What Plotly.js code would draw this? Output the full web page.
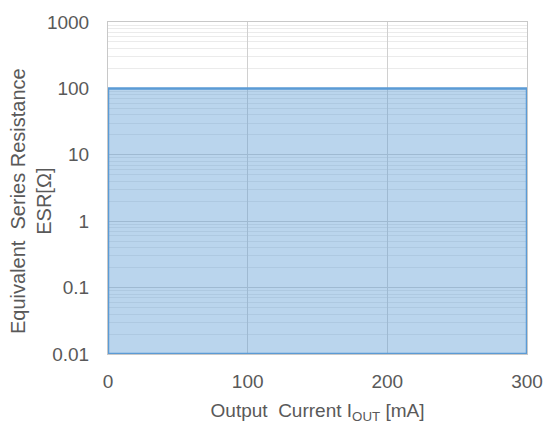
<!DOCTYPE html>
<html>
<head>
<meta charset="utf-8">
<script src="https://cdn.plot.ly/plotly-3.0.1.min.js"></script>
<style>html,body{margin:0;padding:0;background:#fff}#chart{width:548px;height:426px}</style>
</head>
<body>
<div id="chart"></div>
<script>
// Stable region boundary (output current vs ESR)
const regionCurrent = [0, 0, 300, 300, 0];
const regionESR = [0.01, 100, 100, 0.01, 0.01];
const yTickVals = [0.01, 0.1, 1, 10, 100, 1000];
const yTickText = ['0.01', '0.1', '1', '10', '100', '1000'];
const xTickVals = [0, 100, 200, 300];
const yTitle = 'Equivalent  Series Resistance<br>ESR[Ω]';
const xTitle = 'Output  Current I<sub>OUT</sub> [mA]';

const trace = {
  x: regionCurrent,
  y: regionESR,
  type: 'scatter',
  mode: 'lines',
  fill: 'toself',
  fillcolor: 'rgba(91,155,213,0.42)',
  line: {color: '#5b9bd5', width: 2.5},
  hoverinfo: 'skip',
  showlegend: false
};

const layout = {
  width: 548, height: 426,
  margin: {l: 108, r: 21, t: 22, b: 72},
  paper_bgcolor: '#ffffff',
  plot_bgcolor: '#ffffff',
  font: {family: 'Liberation Sans, Arial, sans-serif', size: 19, color: '#595959'},
  xaxis: {
    range: [0, 300],
    tickvals: xTickVals,
    ticks: '',
    ticklabelstandoff: 10,
    showgrid: true,
    gridcolor: '#d0d0d0',
    gridwidth: 1,
    zeroline: false,
    showline: true,
    linecolor: '#c8c8c8',
    mirror: true,
    tickfont: {size: 19, color: '#595959'},
    title: {text: xTitle, font: {size: 19, color: '#595959'}, standoff: 12}
  },
  yaxis: {
    type: 'log',
    range: [-2, 3],
    tickvals: yTickVals,
    ticktext: yTickText,
    ticks: '',
    ticklabelstandoff: 14,
    showgrid: true,
    gridcolor: '#d0d0d0',
    gridwidth: 1,
    zeroline: false,
    showline: true,
    linecolor: '#c8c8c8',
    mirror: true,
    tickfont: {size: 19, color: '#595959'},
    minor: {dtick: 'D1', showgrid: true, gridcolor: '#ebebeb', gridwidth: 1, ticks: ''}
  },
  annotations: [{
    text: yTitle,
    xref: 'paper', yref: 'paper',
    x: 0, y: 0.5,
    xanchor: 'center', yanchor: 'middle',
    xshift: -77, yshift: -13,
    textangle: -90,
    showarrow: false,
    font: {size: 20, color: '#595959'}
  }]
};

Plotly.newPlot('chart', [trace], layout, {displayModeBar: false, staticPlot: true});
</script>
</body>
</html>
